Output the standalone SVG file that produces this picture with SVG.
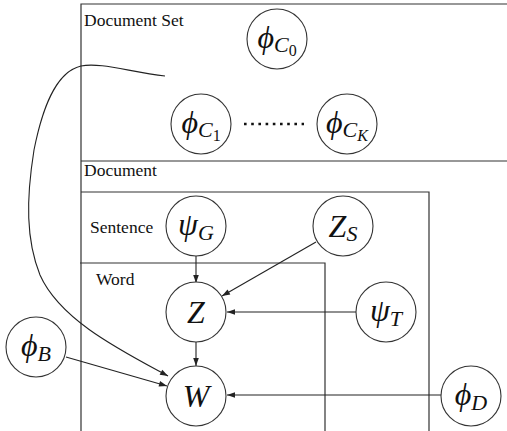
<svg xmlns="http://www.w3.org/2000/svg" width="507" height="431" viewBox="0 0 507 431">
<style>
.plate{fill:none;stroke:#333;stroke-width:1.2}
.lbl{font-family:"Liberation Serif",serif;font-size:17.5px;fill:#111}
.node circle{fill:#fff;stroke:#333;stroke-width:1.1}
.m{font-family:"Liberation Serif",serif;font-style:italic;font-size:32px;fill:#111;text-anchor:middle}
.s{font-size:22px}
.ss{font-size:16px;font-style:normal}
.e{fill:none;stroke:#222;stroke-width:1.1}
</style>
<defs>
<marker id="ah" viewBox="0 0 10 10" refX="10" refY="5" markerWidth="9" markerHeight="8" orient="auto" markerUnits="userSpaceOnUse">
<path d="M0,1.5 L10,5 L0,8.5 Z" fill="#222"/>
</marker>
</defs>
<g id="plates">
<path class="plate" d="M507,4 H81 V431"/>
<path class="plate" d="M81,161 H507"/>
<path class="plate" d="M81,192 H429 V431"/>
<path class="plate" d="M80,263 H325 V431"/>
<text class="lbl" x="84" y="26">Document Set</text>
<text class="lbl" x="84" y="176">Document</text>
<text class="lbl" x="90" y="233">Sentence</text>
<text class="lbl" x="96" y="285">Word</text>
</g>
<g id="connectors">
<path class="e" d="M165,76 C130,72 100,62 81,66 C55,72 42,110 34,150 C26,200 26,240 40,275 C60,320 120,350 168,376" marker-end="url(#ah)"/>
<line class="e" x1="196" y1="256" x2="196" y2="283" marker-end="url(#ah)"/>
<line class="e" x1="316" y1="242" x2="222" y2="296" marker-end="url(#ah)"/>
<line class="e" x1="356" y1="312" x2="227" y2="312" marker-end="url(#ah)"/>
<line class="e" x1="196" y1="342" x2="196" y2="366" marker-end="url(#ah)"/>
<line class="e" x1="66" y1="357" x2="167" y2="386" marker-end="url(#ah)"/>
<line class="e" x1="441" y1="395" x2="227" y2="395" marker-end="url(#ah)"/>
<line x1="244" y1="124" x2="304" y2="124" stroke="#111" stroke-width="2.6" stroke-dasharray="2.6,4.6"/>
</g>
<g id="phiC0" class="node"><circle cx="277" cy="39" r="30"/><text class="m" x="277" y="48">ϕ<tspan class="s" dy="4">C</tspan><tspan class="ss" dy="4">0</tspan></text></g>
<g id="phiC1" class="node"><circle cx="201" cy="124" r="30"/><text class="m" x="201" y="133">ϕ<tspan class="s" dy="4">C</tspan><tspan class="ss" dy="4">1</tspan></text></g>
<g id="phiCK" class="node"><circle cx="347" cy="124" r="30"/><text class="m" x="347" y="133">ϕ<tspan class="s" dy="4">C</tspan><tspan class="ss" dy="4" style="font-style:italic">K</tspan></text></g>
<g id="psiG" class="node"><circle cx="196" cy="226" r="30"/><text class="m" x="196" y="235">ψ<tspan class="s" dy="5">G</tspan></text></g>
<g id="ZS" class="node"><circle cx="343" cy="226" r="30"/><text class="m" x="343" y="237">Z<tspan class="s" dy="4">S</tspan></text></g>
<g id="Z" class="node"><circle cx="196" cy="312" r="30"/><text class="m" x="196" y="323">Z</text></g>
<g id="psiT" class="node"><circle cx="386" cy="312" r="30"/><text class="m" x="386" y="321">ψ<tspan class="s" dy="5">T</tspan></text></g>
<g id="phiB" class="node"><circle cx="36" cy="347" r="30"/><text class="m" x="36" y="356">ϕ<tspan class="s" dy="5">B</tspan></text></g>
<g id="W" class="node"><circle cx="196" cy="396" r="30"/><text class="m" x="196" y="407">W</text></g>
<g id="phiD" class="node"><circle cx="471" cy="396" r="30"/><text class="m" x="471" y="405">ϕ<tspan class="s" dy="5">D</tspan></text></g>
</svg>
